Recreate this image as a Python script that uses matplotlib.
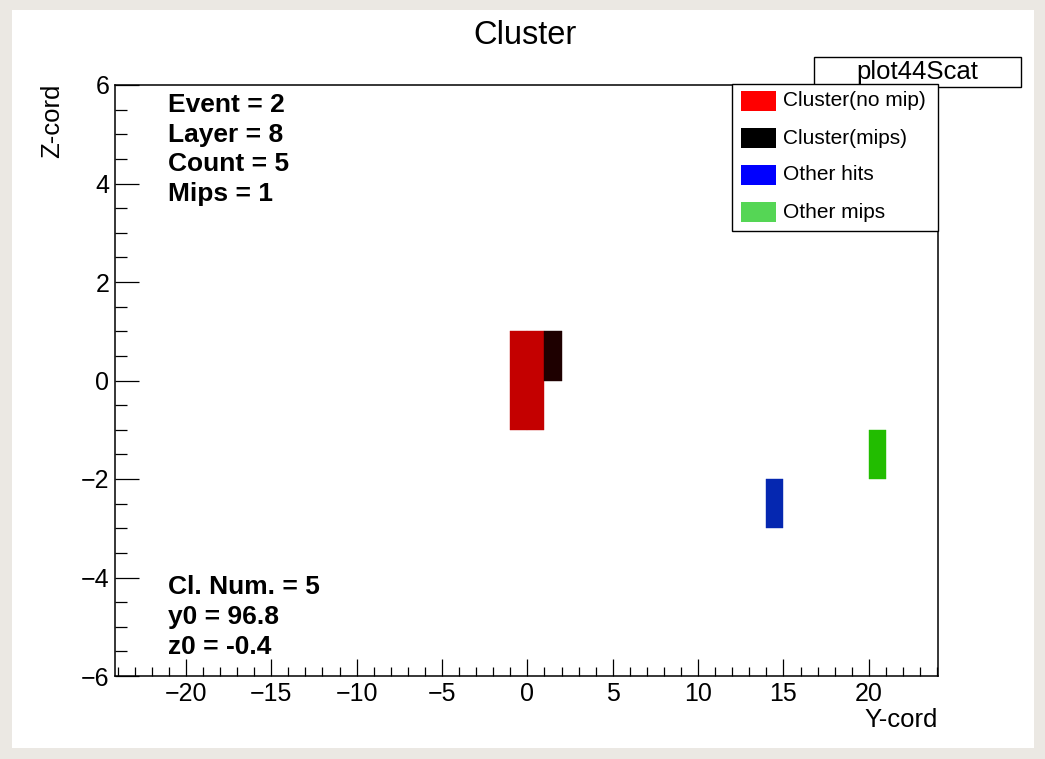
import matplotlib
matplotlib.use("Agg")
import matplotlib.pyplot as plt
from matplotlib.patches import Rectangle
from matplotlib.ticker import MultipleLocator

plt.rcParams['font.family'] = ['Liberation Sans', 'DejaVu Sans']

# celle (y, z) di larghezza 1
cluster_y = [-1, -1, 0, 0]
cluster_z = [-1, 0, -1, 0]
mips_y = [1]
mips_z = [0]
altri_y = [14]
altri_z = [-3]
altrimip_y = [20]
altrimip_z = [-2]

colori_celle = ['#c40000', '#1e0000', '#0527b0', '#22bd00']
legenda_testi = ['Cluster(no mip)', 'Cluster(mips)', 'Other hits', 'Other mips']
legenda_colori = ['#ff0000', '#000000', '#0000ff', '#55d655']

info_alto = ['Event = 2', 'Layer = 8', 'Count = 5', 'Mips = 1']
info_basso = ['Cl. Num. = 5', 'y0 = 96.8', 'z0 = -0.4']

W, H = 1045, 759
def fx(px):
    return px / W
def fy(py):
    return 1 - py / H

fig = plt.figure(figsize=(W / 100, H / 100), dpi=100, facecolor='#ebe8e3')
fig.patches.append(Rectangle((fx(12), fy(748)), fx(1034) - fx(12), fy(10) - fy(748),
                             transform=fig.transFigure, facecolor='white',
                             edgecolor='none', zorder=-1))

ax = fig.add_axes([fx(115), fy(676), fx(938) - fx(115), fy(85) - fy(676)])
ax.set_zorder(1)
ax.set_facecolor('white')

gruppi = [(cluster_y, cluster_z), (mips_y, mips_z), (altri_y, altri_z), (altrimip_y, altrimip_z)]
for (ys, zs), col in zip(gruppi, colori_celle):
    ax.bar(ys, [1] * len(ys), width=1, bottom=zs, align='edge', color=col,
           edgecolor=col, linewidth=0.3)

ax.set_xlim(-24.15, 24.05)
ax.set_ylim(-6, 6)
ax.xaxis.set_major_locator(MultipleLocator(5))
ax.xaxis.set_minor_locator(MultipleLocator(1))
ax.yaxis.set_major_locator(MultipleLocator(2))
ax.yaxis.set_minor_locator(MultipleLocator(0.5))

for s in ax.spines.values():
    s.set_linewidth(1.1)
ax.tick_params(axis='x', which='major', direction='in', length=12, width=0.9,
               labelsize=18, pad=4, top=False)
ax.tick_params(axis='x', which='minor', direction='in', length=6.5, width=0.9, top=False)
ax.tick_params(axis='y', which='major', direction='in', length=17, width=0.9,
               labelsize=18, pad=4, right=False)
ax.tick_params(axis='y', which='minor', direction='in', length=8.5, width=0.9, right=False)

fig.text(fx(525), fy(36), 'Cluster', ha='center', va='center', fontsize=23.5)
fig.text(fx(938), fy(727), 'Y-cord', ha='right', va='baseline', fontsize=18.5)
fig.text(fx(52), fy(84), 'Z-cord', ha='center', va='top', rotation=90, fontsize=18.5)

for riga, base in zip(info_alto, [112, 142, 171, 201]):
    fig.text(fx(168), fy(base), riga, ha='left', va='baseline', fontsize=19,
             fontweight='bold', zorder=3)
for riga, base in zip(info_basso, [594, 624, 654]):
    fig.text(fx(168), fy(base), riga, ha='left', va='baseline', fontsize=19,
             fontweight='bold', zorder=3)

# riquadro plot44Scat
fig.patches.append(Rectangle((fx(814), fy(87)), fx(1021) - fx(814), fy(57) - fy(87),
                             transform=fig.transFigure, facecolor='white',
                             edgecolor='black', linewidth=1.0, zorder=3))
fig.text(fx(917), fy(72), 'plot44Scat', ha='center', va='center', fontsize=18.5, zorder=4)

# legenda
fig.patches.append(Rectangle((fx(732), fy(231)), fx(938) - fx(732), fy(84) - fy(231),
                             transform=fig.transFigure, facecolor='white',
                             edgecolor='black', linewidth=1.0, zorder=5))
for testo, col, cy in zip(legenda_testi, legenda_colori, [101, 138, 175, 212]):
    fig.patches.append(Rectangle((fx(741), fy(cy + 10)), fx(776) - fx(741), fy(cy - 10) - fy(cy + 10),
                                 transform=fig.transFigure, facecolor=col,
                                 edgecolor='none', zorder=6))
    fig.text(fx(783), fy(cy), testo, ha='left', va='center', fontsize=15, zorder=7)

fig.savefig('out.png', dpi=100, facecolor=fig.get_facecolor())
